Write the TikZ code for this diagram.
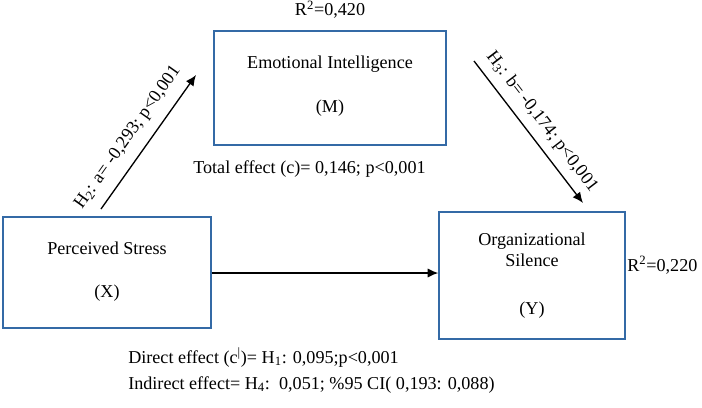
\documentclass[tikz,border=0pt]{standalone}
\usepackage{fontspec}
\setmainfont{Liberation Serif}
\usetikzlibrary{arrows.meta}
\definecolor{boxblue}{RGB}{52,106,166}
\begin{document}
\begin{tikzpicture}[x=0.75pt,y=-0.75pt,
  every node/.style={font=\fontsize{13.6}{16}\selectfont, inner sep=0pt},
  varbox/.style={draw=boxblue, line width=1.1pt, rectangle},
  lbl/.style={anchor=base},
  lbll/.style={anchor=base west},
  effarrow/.style={draw=black, line width=1pt, -{Latex[length=8pt,width=7pt]}}]
\useasboundingbox (0,0) rectangle (702,407);
% boxes
\node[varbox, minimum width=156pt, minimum height=83.25pt] (X) at (107,272.5) {};
\node[varbox, minimum width=174pt, minimum height=85.5pt] (M) at (330,88) {};
\node[varbox, minimum width=139.5pt, minimum height=95.25pt] (Y) at (532,275.5) {};
% box texts
\node[lbl] (xt1) at (107,254) {Perceived Stress};
\node[lbl] (xt2) at (107,297) {(X)};
\node[lbl] (mt1) at (330,68) {Emotional Intelligence};
\node[lbl] (mt2) at (330,112) {(M)};
\node[lbl] (yt1) at (532,245) {Organizational};
\node[lbl] (yt2) at (532,266) {Silence};
\node[lbl] (yt3) at (532,314) {(Y)};
% other texts
\node[lbl] (r1) at (330,16) {R\textsuperscript{2}=0,420};
\node[lbll] (r2) at (627,271) {R\textsuperscript{2}=0,220};
\node[lbll] (tot) at (193,173) {Total effect (c)= 0,146; p<0,001};
\node[lbll] (dir) at (128,363) {Direct effect (c\textsuperscript{|})= H\textsubscript{1}: 0,095;p<0,001};
\node[lbll] (ind) at (128,389) {Indirect effect= H\textsubscript{4}:\ \ 0,051; \%95 CI( 0,193: 0,088)};
% arrow end points
\coordinate (a1) at (101,209);
\coordinate (a2) at (196,75);
\coordinate (b1) at (474,61);
\coordinate (b2) at (583,203);
\coordinate (h1) at (X.east |- 0,273);
\coordinate (h2) at (Y.west |- 0,273);
% arrows
\draw[effarrow] (a1) -- node[sloped, above=8pt, pos=0.45] (la) {H\textsubscript{2}: a= -0,293; p<0,001} (a2);
\draw[effarrow] (b1) -- node[sloped, above=6pt, pos=0.5] (lb) {H\textsubscript{3}: b= -0,174; p<0,001} (b2);
\draw[effarrow] (h1) -- (h2);
\end{tikzpicture}
\end{document}
